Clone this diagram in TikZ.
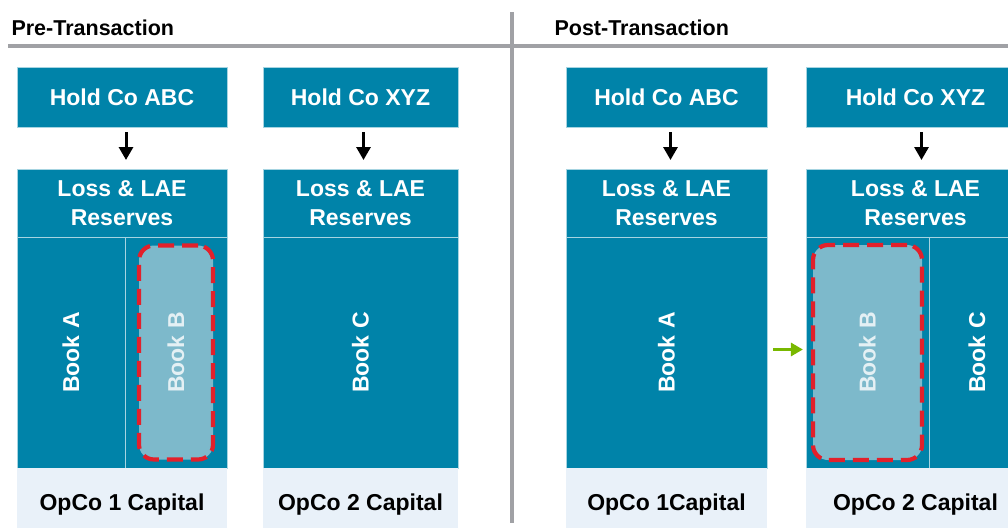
\documentclass[tikz,border=0pt]{standalone}
\usepackage{fontspec}
\setmainfont{Liberation Sans}
\usetikzlibrary{arrows.meta, positioning}
\definecolor{boxblue}{HTML}{0083A9}
\definecolor{paleblue}{HTML}{7DB9CB}
\definecolor{paletext}{HTML}{E4F0F4}
\definecolor{capfill}{HTML}{E9F1F9}
\definecolor{rulegray}{HTML}{A0A1A5}
\definecolor{movered}{HTML}{E2202B}
\definecolor{movegreen}{HTML}{78B800}

\begin{document}
\begin{tikzpicture}[x=1pt, y=-1pt, >={Triangle[length=13pt,width=14pt]},
  entity/.style={draw=boxblue!35, line width=0.8pt, fill=boxblue, text=white,
    font=\fontsize{23}{28.5}\selectfont\bfseries, align=center, inner sep=0pt, outer sep=0pt},
  capital/.style={fill=capfill, text=black, font=\fontsize{23}{28}\selectfont\bfseries,
    inner sep=0pt, outer sep=0pt},
  moved/.style={draw=movered, line width=4.2pt, dash pattern=on 16pt off 8pt,
    rounded corners=15pt, fill=paleblue, text=paletext,
    font=\fontsize{23}{28}\selectfont\bfseries, inner sep=0pt},
  title/.style={anchor=base west, font=\fontsize{21.5}{25}\selectfont\bfseries},
  owns/.style={->, line width=3pt, shorten <=5pt, shorten >=9pt}]
\useasboundingbox (0,0) rectangle (1008,527);
\clip (0,0) rectangle (1008,527);

% section rules
\draw[rulegray, line width=4pt] (512,12) -- (512,523);
\draw[rulegray, line width=3.5pt] (8,46) -- (1008,46);
\node[title] (preTitle) at (8,36) {Pre-Transaction};
\node[title] (postTitle) at (551,36) {Post-Transaction};

% pre-transaction, company ABC
\node[entity, minimum width=210pt, minimum height=60pt, anchor=north west] (preHoldAbc) at (17,67) {Hold Co ABC};
\node[entity, minimum width=210pt, minimum height=68pt, below=42pt of preHoldAbc] (preLossAbc) {Loss \& LAE\\Reserves};
\node[entity, minimum width=108pt, minimum height=231pt, anchor=north west] (preBookA) at (preLossAbc.south west) {\rotatebox{90}{Book A}};
\node[entity, minimum width=102pt, minimum height=231pt, anchor=north west] (preBookB) at (preBookA.north east) {};
\node[moved, minimum width=74pt, minimum height=214pt] (preMoveB) at (preBookB) {\rotatebox{90}{Book B}};
\node[capital, minimum width=210pt, minimum height=74pt, anchor=north west] (preCapAbc) at (preBookA.south west) {OpCo 1 Capital};

% pre-transaction, company XYZ
\node[entity, minimum width=195pt, minimum height=60pt, anchor=north west] (preHoldXyz) at (263,67) {Hold Co XYZ};
\node[entity, minimum width=195pt, minimum height=68pt, below=42pt of preHoldXyz] (preLossXyz) {Loss \& LAE\\Reserves};
\node[entity, minimum width=195pt, minimum height=231pt, anchor=north west] (preBookC) at (preLossXyz.south west) {\rotatebox{90}{Book C}};
\node[capital, minimum width=195pt, minimum height=74pt, anchor=north west] (preCapXyz) at (preBookC.south west) {OpCo 2 Capital};

% post-transaction, company ABC
\node[entity, minimum width=201pt, minimum height=60pt, anchor=north west] (postHoldAbc) at (566,67) {Hold Co ABC};
\node[entity, minimum width=201pt, minimum height=68pt, below=42pt of postHoldAbc] (postLossAbc) {Loss \& LAE\\Reserves};
\node[entity, minimum width=201pt, minimum height=231pt, anchor=north west] (postBookA) at (postLossAbc.south west) {\rotatebox{90}{Book A}};
\node[capital, minimum width=201pt, minimum height=74pt, anchor=north west] (postCapAbc) at (postBookA.south west) {OpCo 1Capital};

% post-transaction, company XYZ
\node[entity, minimum width=219pt, minimum height=60pt, anchor=north west] (postHoldXyz) at (806,67) {Hold Co XYZ};
\node[entity, minimum width=219pt, minimum height=68pt, below=42pt of postHoldXyz] (postLossXyz) {Loss \& LAE\\Reserves};
\node[entity, minimum width=123pt, minimum height=231pt, anchor=north west] (postBookB) at (postLossXyz.south west) {};
\node[entity, minimum width=96pt, minimum height=231pt, anchor=north west] (postBookC) at (postBookB.north east) {\rotatebox{90}{Book C}};
\node[moved, minimum width=109pt, minimum height=215pt] (postMoveB) at (postBookB) {\rotatebox{90}{Book B}};
\node[capital, minimum width=219pt, minimum height=74pt, anchor=north west] (postCapXyz) at (postBookB.south west) {OpCo 2 Capital};

% ownership arrows
\draw[owns] ([xshift=4pt]preHoldAbc.south) -- ([xshift=4pt]preLossAbc.north);
\draw[owns] ([xshift=3pt]preHoldXyz.south) -- ([xshift=3pt]preLossXyz.north);
\draw[owns] ([xshift=4pt]postHoldAbc.south) -- ([xshift=4pt]postLossAbc.north);
\draw[owns] ([xshift=6pt]postHoldXyz.south) -- ([xshift=6pt]postLossXyz.north);

% transfer of book B
\draw[->, movegreen, line width=3.5pt, shorten <=6pt, shorten >=8pt,
  >={Triangle[length=12pt,width=13pt]}] ([yshift=3pt]postBookA.east) -- ([yshift=3pt]postMoveB.west);

\end{tikzpicture}
\end{document}
